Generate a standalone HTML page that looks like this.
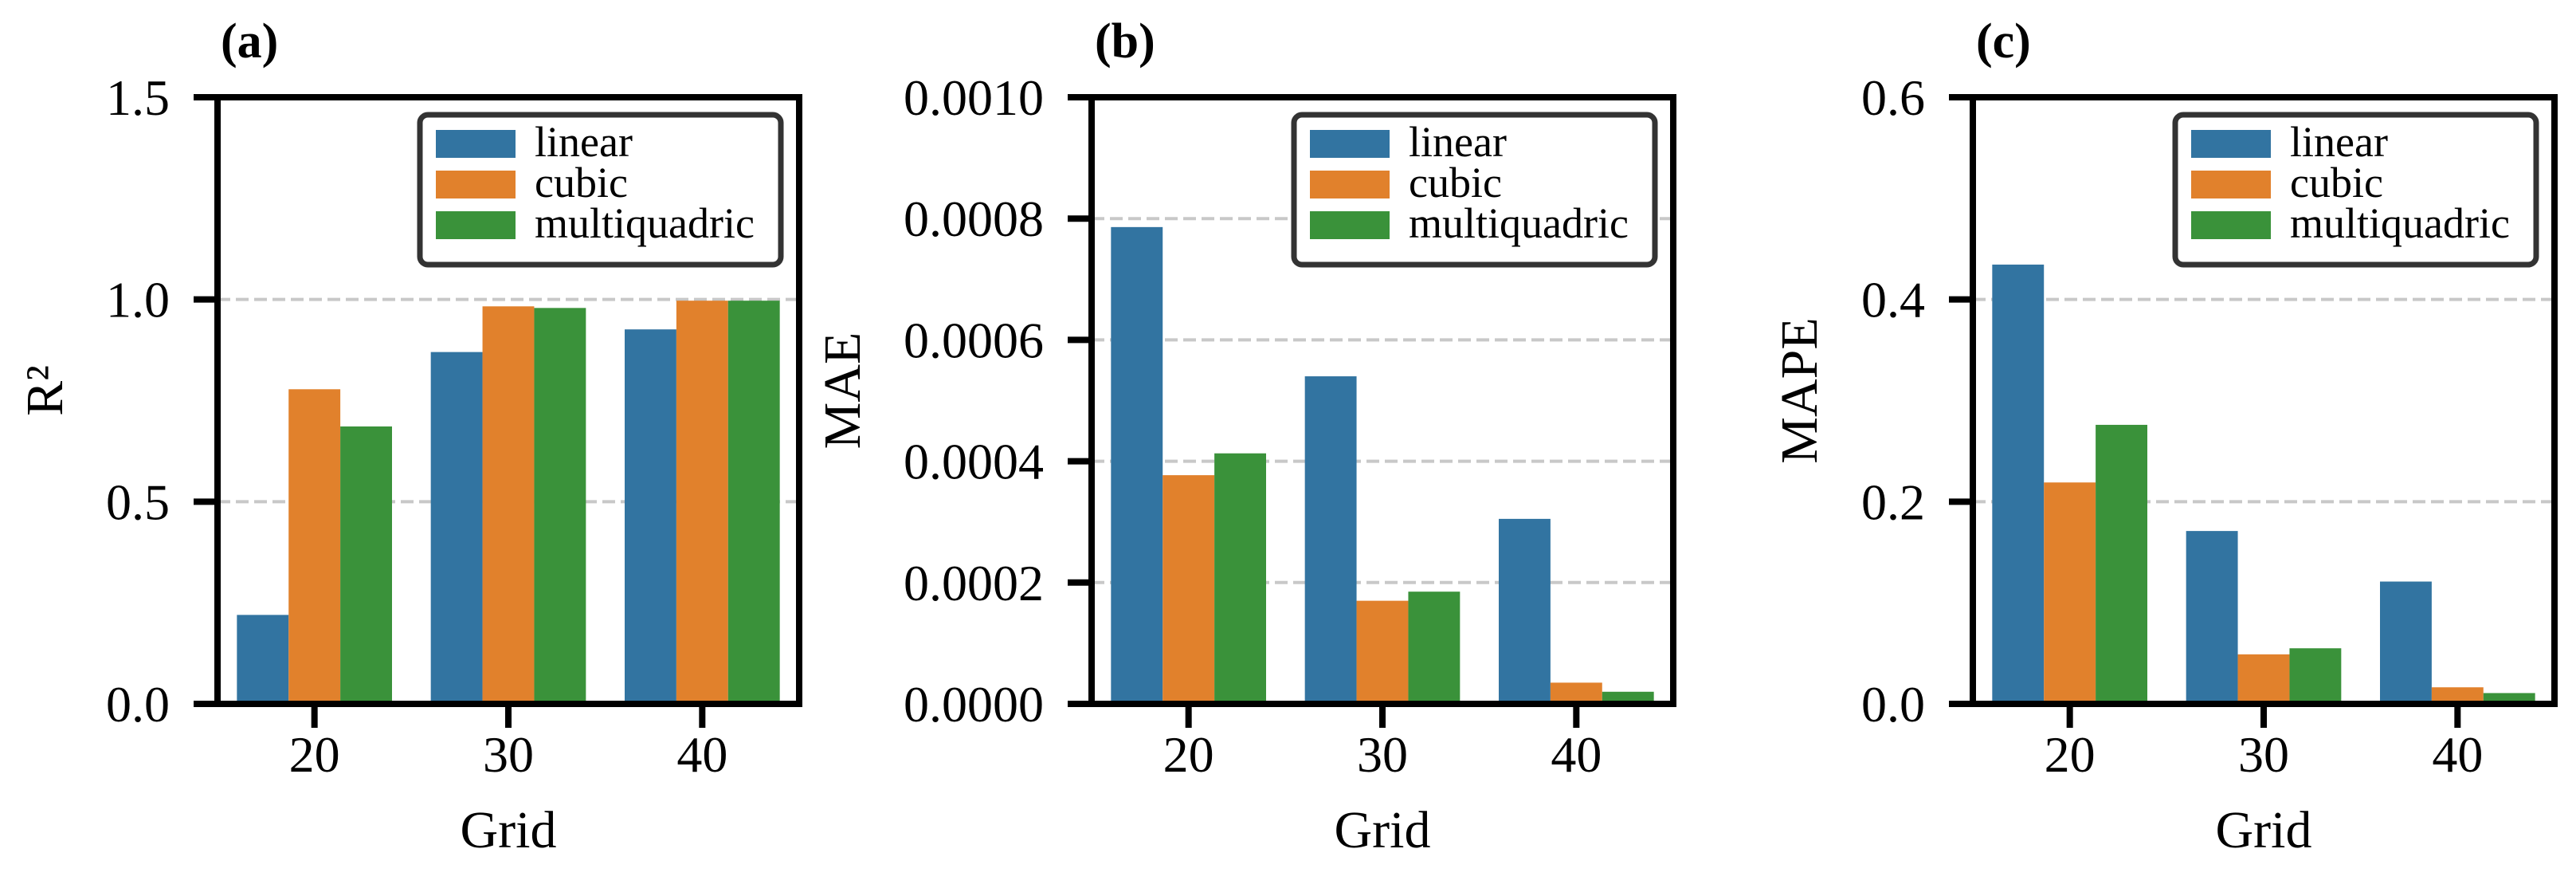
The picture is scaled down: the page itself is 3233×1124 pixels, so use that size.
<!DOCTYPE html>
<html><head><meta charset="utf-8">
<style>
html,body{margin:0;padding:0;background:#fff;}
svg{display:block;font-family:"Liberation Serif",serif;}
</style></head>
<body>
<svg id="chart" width="3233" height="1124" viewBox="0 0 3233 1124" xmlns="http://www.w3.org/2000/svg"></svg>
<script>
const categories = ["20","30","40"];
const seriesNames = ["linear","cubic","multiquadric"];
const r2Linear = [0.22,0.87,0.926];
const r2Cubic = [0.778,0.983,0.997];
const r2Multi = [0.686,0.979,0.997];
const maeLinear = [0.000786,0.00054,0.000305];
const maeCubic = [0.000377,0.00017,0.000035];
const maeMulti = [0.000413,0.000185,0.00002];
const mapeLinear = [0.4345,0.171,0.121];
const mapeCubic = [0.219,0.049,0.0164];
const mapeMulti = [0.276,0.055,0.0107];
const r2Ticks = ["0.0","0.5","1.0","1.5"];
const maeTicks = ["0.0000","0.0002","0.0004","0.0006","0.0008","0.0010"];
const mapeTicks = ["0.0","0.2","0.4","0.6"];

const colors = ["#3274a1","#e1812c","#3a923a"];
const NS = "http://www.w3.org/2000/svg";
const svg = document.getElementById("chart");
function mk(tag, attrs, parent){
  const e = document.createElementNS(NS, tag);
  for (const k in attrs) e.setAttribute(k, attrs[k]);
  (parent||svg).appendChild(e);
  return e;
}

const panels = [
  {id:"a", off:0, ylabel:"R²", ticks:r2Ticks, max:1.5, series:[r2Linear,r2Cubic,r2Multi], ylx:56},
  {id:"b", off:1097, ylabel:"MAE", ticks:maeTicks, max:0.001, series:[maeLinear,maeCubic,maeMulti], ylx:1057-1097},
  {id:"c", off:2203, ylabel:"MAPE", ticks:mapeTicks, max:0.6, series:[mapeLinear,mapeCubic,mapeMulti], ylx:2258-2203}
];

const TOP = 122, BOT = 883, AXW = 730;
panels.forEach(p => {
  const g = mk("g", {transform:`translate(${p.off},0)`});
  
  
  const L = 273, R = L + AXW;
  const y = v => BOT - v / p.max * (BOT - TOP);
  const catW = AXW / categories.length;
  const x = i => L + catW * (i + 0.5);
  const bw = catW * 0.8 / 3;

  p.ticks.forEach((t, i) => {
    const v = parseFloat(t);
    if (v === 0 || Math.abs(v - p.max) < 1e-12) return;
    const gl = mk("line", {x1:L, x2:R, y1:y(v), y2:y(v), stroke:"#c8c8c8", "stroke-width":4, "stroke-dasharray":"16,7"}, g);
    
    
  });

  p.series.forEach((s, si) => {
    s.forEach((v, ci) => {
      const bx = x(ci) - 1.5 * bw + si * bw;
      const r = mk("rect", {x:bx, y:y(v), width:bw, height:BOT - y(v), fill:colors[si]}, g);
      
      
    });
  });

  p.ticks.forEach(t => {
    const v = parseFloat(t);
    mk("line", {x1:L - 30, x2:L, y1:y(v), y2:y(v), stroke:"#000", "stroke-width":8}, g);
    const tx = mk("text", {x:213, y:y(v) + 22, "text-anchor":"end", "font-size":64}, g);
    tx.textContent = t;
    
    
  });
  categories.forEach((c, i) => {
    mk("line", {x1:x(i), x2:x(i), y1:BOT, y2:BOT + 30, stroke:"#000", "stroke-width":8}, g);
    const tx = mk("text", {x:x(i), y:968, "text-anchor":"middle", "font-size":64}, g);
    tx.textContent = c;
    
    
  });

  const sp = mk("rect", {x:L, y:TOP, width:AXW, height:BOT - TOP, fill:"none", stroke:"#000", "stroke-width":8}, g);
  
  

  const xl = mk("text", {x:L + AXW / 2, y:1063, "text-anchor":"middle", "font-size":66}, g);
  xl.textContent = "Grid";
  
  
  const yl = mk("text", {x:0, y:0, "text-anchor":"middle", "font-size":66, transform:`translate(${p.ylx + 22},${490}) rotate(-90)`}, g);
  yl.textContent = p.ylabel;
  
  

  const pl = mk("text", {x:L + 4, y:72, "font-size":62, "font-weight":"bold"}, g);
  pl.textContent = "(" + p.id + ")";
  
  

  const lg = mk("g", {}, g);
  
  
  mk("rect", {x:527, y:144, width:453, height:188, rx:10, fill:"#fff", stroke:"#333", "stroke-width":7}, lg);
  seriesNames.forEach((n, i) => {
    const sw = mk("rect", {x:547, y:163 + i * 51, width:100, height:35, fill:colors[i]}, lg);
    
    
    const t = mk("text", {x:671, y:196 + i * 51, "font-size":54}, lg);
    t.textContent = n;
    
    
  });
});
</script>
</body></html>
